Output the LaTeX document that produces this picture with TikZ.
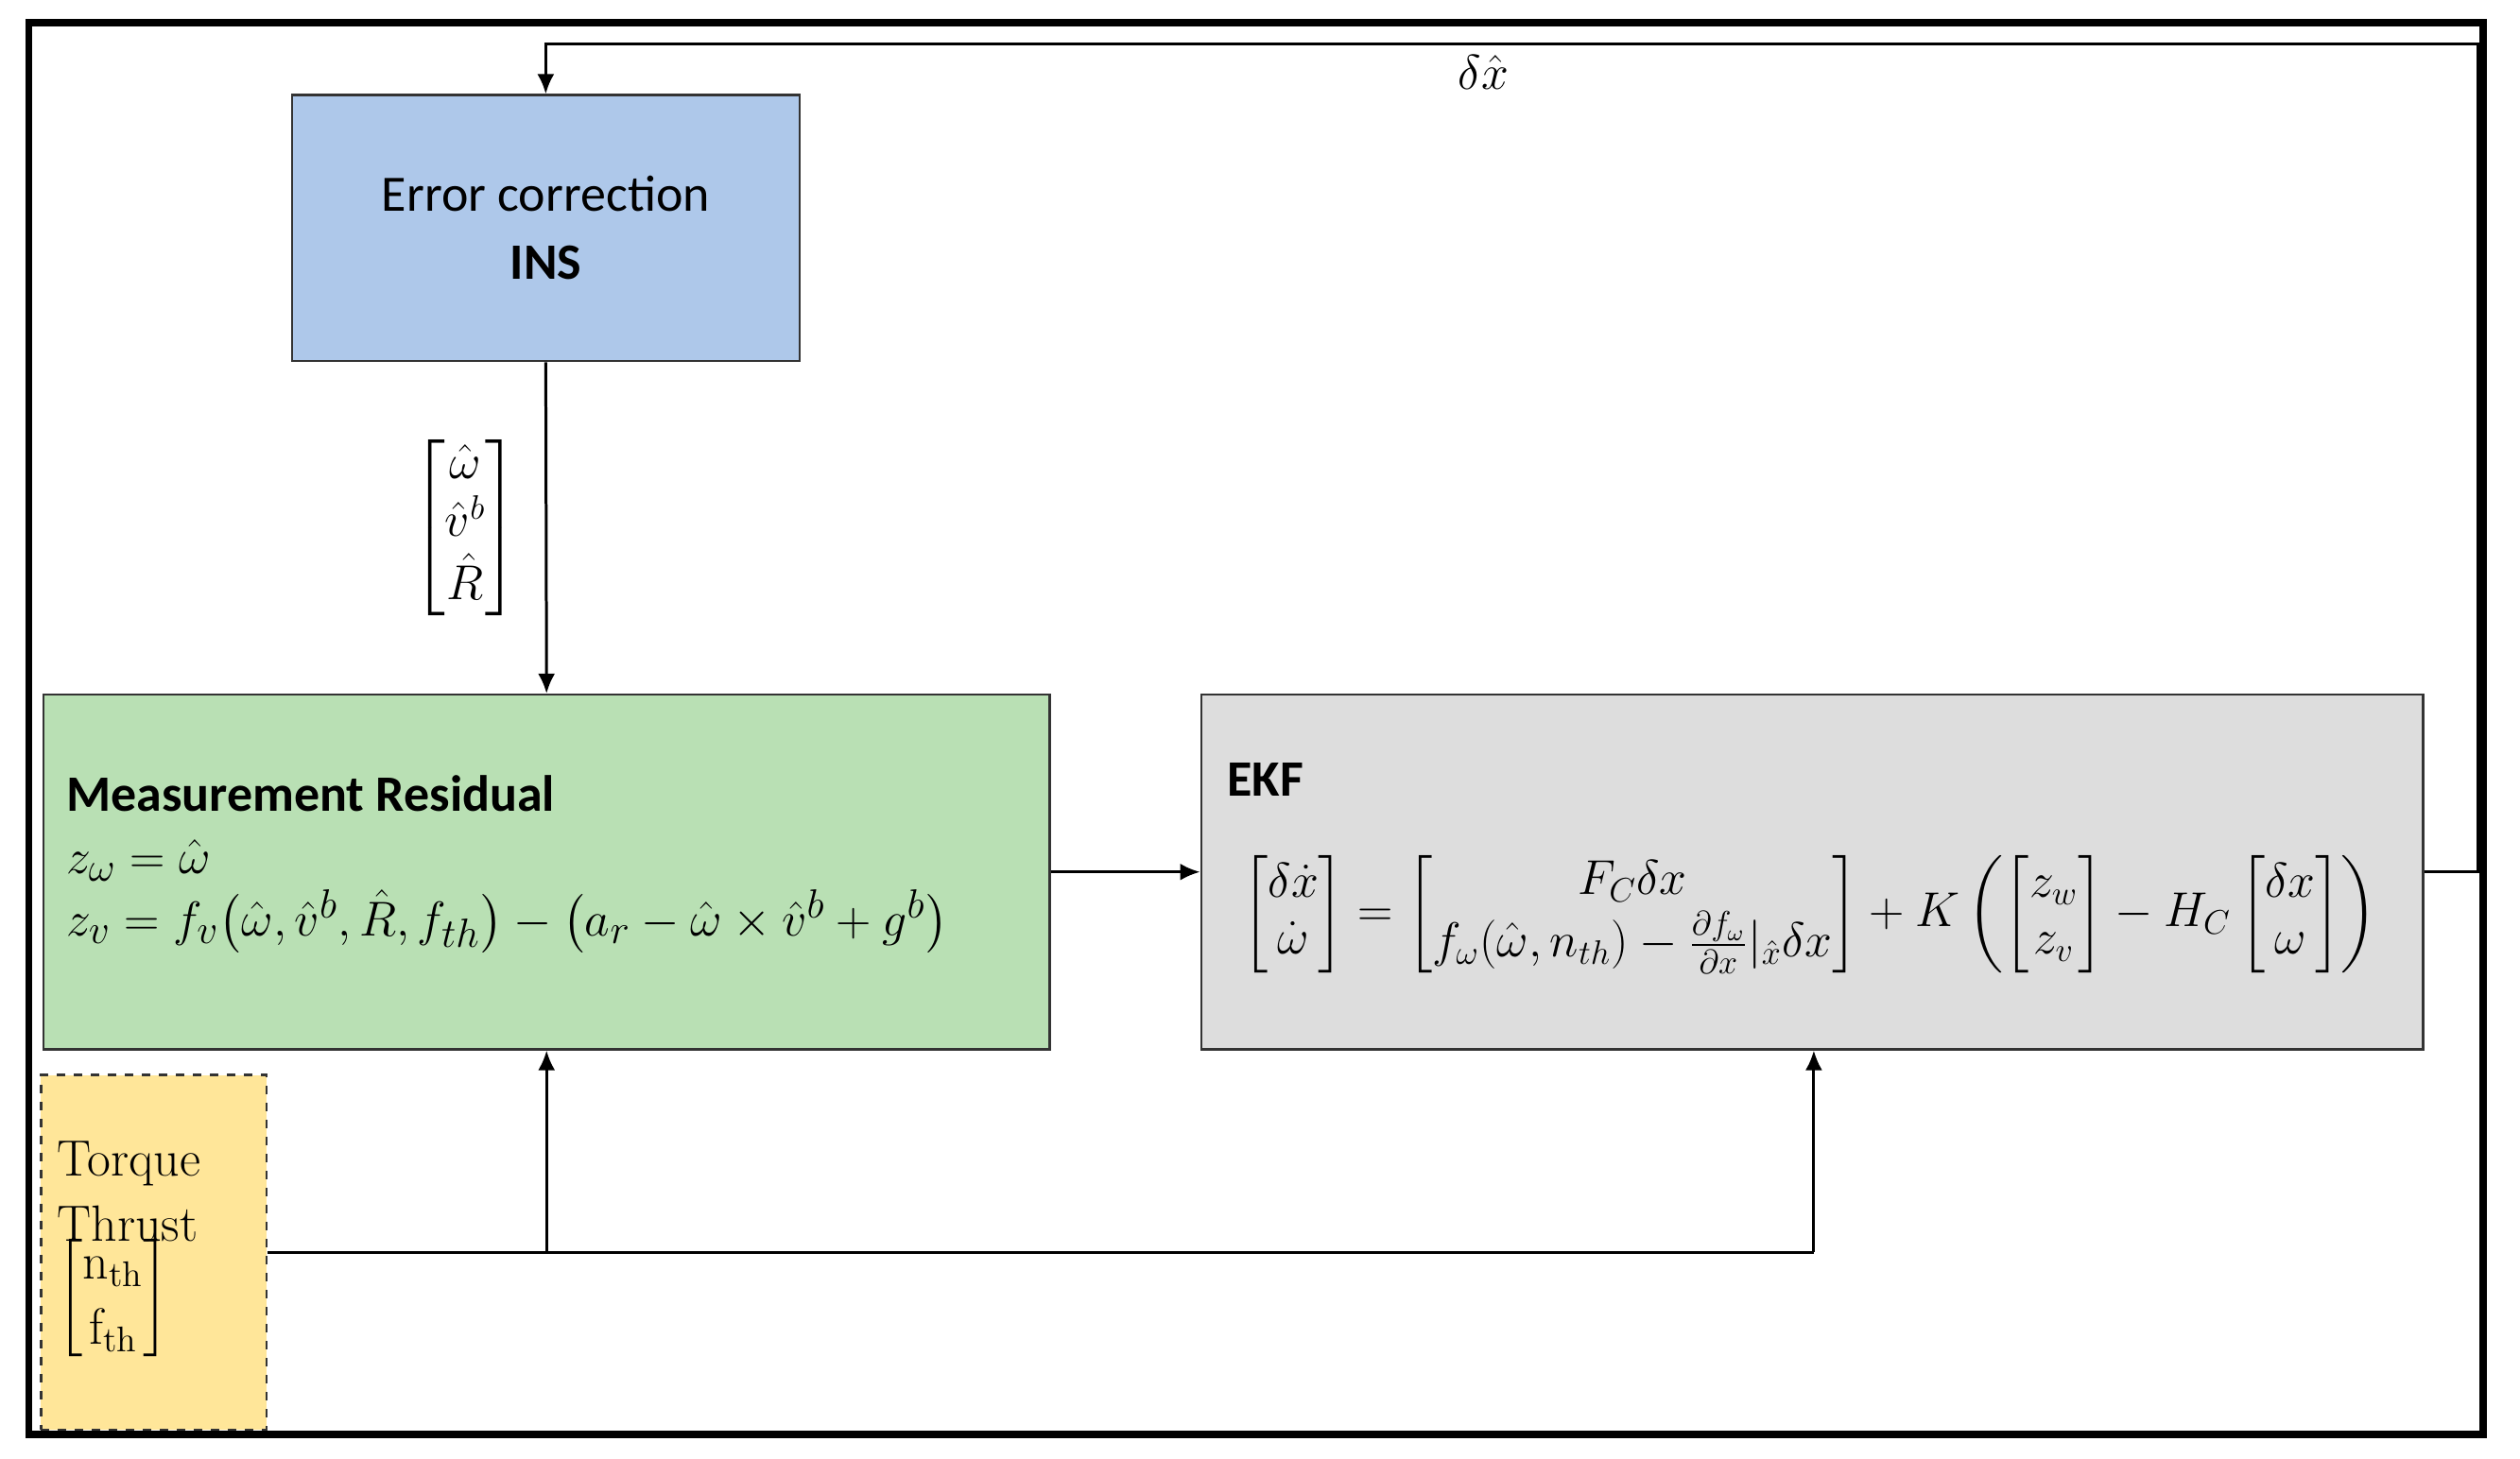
\documentclass[tikz,border=0pt]{standalone}
\usepackage{amsmath}
\usepackage{fontspec}
\newfontfamily\carl{Carlito}
\usetikzlibrary{arrows.meta}
\begin{document}
\begin{tikzpicture}[
  blk/.style={draw=black!80, line width=0.8pt, inner sep=0pt},
  arr/.style={-{Latex[length=7pt,width=6pt]}, line width=1pt},
  ln/.style={line width=1pt}]
\useasboundingbox[fill=white] (0,0) rectangle (31.26,18.1);
\draw[line width=2.5pt] (0.36,0.3) rectangle (30.8,17.82);
% boxes
\node[blk, fill={rgb,255:red,174;green,200;blue,234}, minimum width=6.3cm, minimum height=3.3cm, align=center, font=\carl\fontsize{18}{24}\selectfont] (ins) at (6.77,15.27) {Error correction\\ \textbf{INS}};
\node[blk, fill={rgb,255:red,185;green,224;blue,180}, minimum width=12.48cm, minimum height=4.4cm] (mr) at (6.78,7.28) {};
\node[anchor=north west, align=left, font=\fontsize{19}{26}\selectfont] at (0.7,8.6) {{\carl\bfseries\fontsize{18}{20}\selectfont Measurement Residual}\\[-4pt]
$z_\omega = \hat\omega$\\[-4pt]
$z_v = f_v\bigl(\hat\omega,\hat v^b,\hat R,f_{th}\bigr) - \bigl(a_r - \hat\omega\times\hat v^b + g^b\bigr)$};
\node[blk, fill={rgb,255:red,221;green,221;blue,221}, minimum width=15.16cm, minimum height=4.4cm] (ekf) at (22.48,7.28) {};
\node[anchor=north west, font=\carl\bfseries\fontsize{18}{20}\selectfont] at (15.1,8.75) {EKF};
\node[font=\fontsize{17}{20}\selectfont] at (22.45,6.75) {$\begin{bmatrix}\delta\dot x\\ \dot\omega\end{bmatrix} = \begin{bmatrix} F_C\delta x \\ f_\omega(\hat\omega,n_{th}) - \frac{\partial f_\omega}{\partial x}|_{\hat x}\delta x\end{bmatrix} + K\left(\begin{bmatrix}z_w\\ z_v\end{bmatrix} - H_C\begin{bmatrix}\delta x\\ \omega\end{bmatrix}\right)$};
\node[draw=black!80, dashed, line width=0.8pt, fill={rgb,255:red,255;green,230;blue,153}, minimum width=2.74cm, minimum height=4.4cm, text width=2.4cm, align=left, inner sep=0.2cm, font=\fontsize{18}{23}\selectfont] (tt) at (1.91,2.56) {Torque\\ Thrust\\[-4pt] $\begin{bmatrix}\mathrm{n_{th}}\\ \mathrm{f_{th}}\end{bmatrix}$};
% connectors
\draw[arr] (ins.south) -- node[left=6pt, font=\fontsize{17}{20}\selectfont] {$\begin{bmatrix}\hat\omega\\ \hat v^b\\ \hat R\end{bmatrix}$} (mr.north);
\draw[arr] (mr.east) -- (ekf.west);
\coordinate (j1) at (6.78,2.56);
\coordinate (j2) at (22.5,2.56);
\draw[ln] (tt.east) -- (j2);
\draw[arr] (j1) -- (mr.south);
\draw[arr] (j2) -- (ekf.south -| j2);
\coordinate (f1) at (30.74,7.28);
\coordinate (f2) at (30.74,17.56);
\coordinate (f3) at (6.77,17.56);
\draw[arr] (ekf.east) -- (f1) -- (f2) -- (f3) -- (ins.north);
\node[font=\fontsize{18}{20}\selectfont] at (18.4,17.2) {$\delta\hat x$};
\end{tikzpicture}
\end{document}
